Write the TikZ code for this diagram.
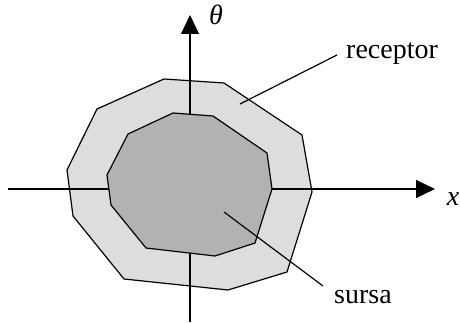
\documentclass[tikz,border=0pt]{standalone}
\usepackage{fontspec}
\setmainfont{Liberation Serif}
\usetikzlibrary{arrows.meta}
\definecolor{outergray}{HTML}{DDDDDD}
\definecolor{innergray}{HTML}{B2B2B2}
\begin{document}
\begin{tikzpicture}[x=1pt,y=-1pt,
  edge/.style={line width=1.2pt,line join=miter},
  axis/.style={line width=1.2pt,-{Triangle[length=19pt,width=18pt]}},
  leader/.style={line width=1.2pt},
  lbl/.style={font=\fontsize{28}{30}\selectfont,inner sep=0pt}]
\useasboundingbox (0,0) rectangle (460,323);
% outer region (receptor)
\draw[edge,fill=outergray] (97,109) -- (164,79) -- (224,83) -- (302,135) -- (312,192)
  -- (287,272) -- (228,290) -- (124,279) -- (73,216) -- (67,170) -- cycle;
% axes
\coordinate (ybot) at (190,322);
\coordinate (ytop) at (190,15);
\coordinate (xleft) at (8,189);
\coordinate (xright) at (435,189);
\draw[axis] (ybot) -- (ytop);
\draw[axis] (xleft) -- (xright);
% inner region (sursa)
\draw[edge,fill=innergray] (128,134) -- (173,113) -- (213,116) -- (267,153) -- (272,189)
  -- (255,243) -- (215,256) -- (146,248) -- (111,205) -- (107,175) -- cycle;
% labels
\node[lbl,anchor=base] (theta) at (216,25) {\itshape θ};
\node[lbl,anchor=base] (xl) at (453,205) {\itshape x};
\node[lbl,anchor=base west] (rec) at (346,59) {receptor};
\node[lbl,anchor=base west] (src) at (334,303) {sursa};
% leader lines
\coordinate (recA) at (337,55);
\coordinate (recB) at (240,104);
\coordinate (srcA) at (224,212);
\coordinate (srcB) at (323,286);
\draw[leader] (recA) -- (recB);
\draw[leader] (srcA) -- (srcB);
\end{tikzpicture}
\end{document}
